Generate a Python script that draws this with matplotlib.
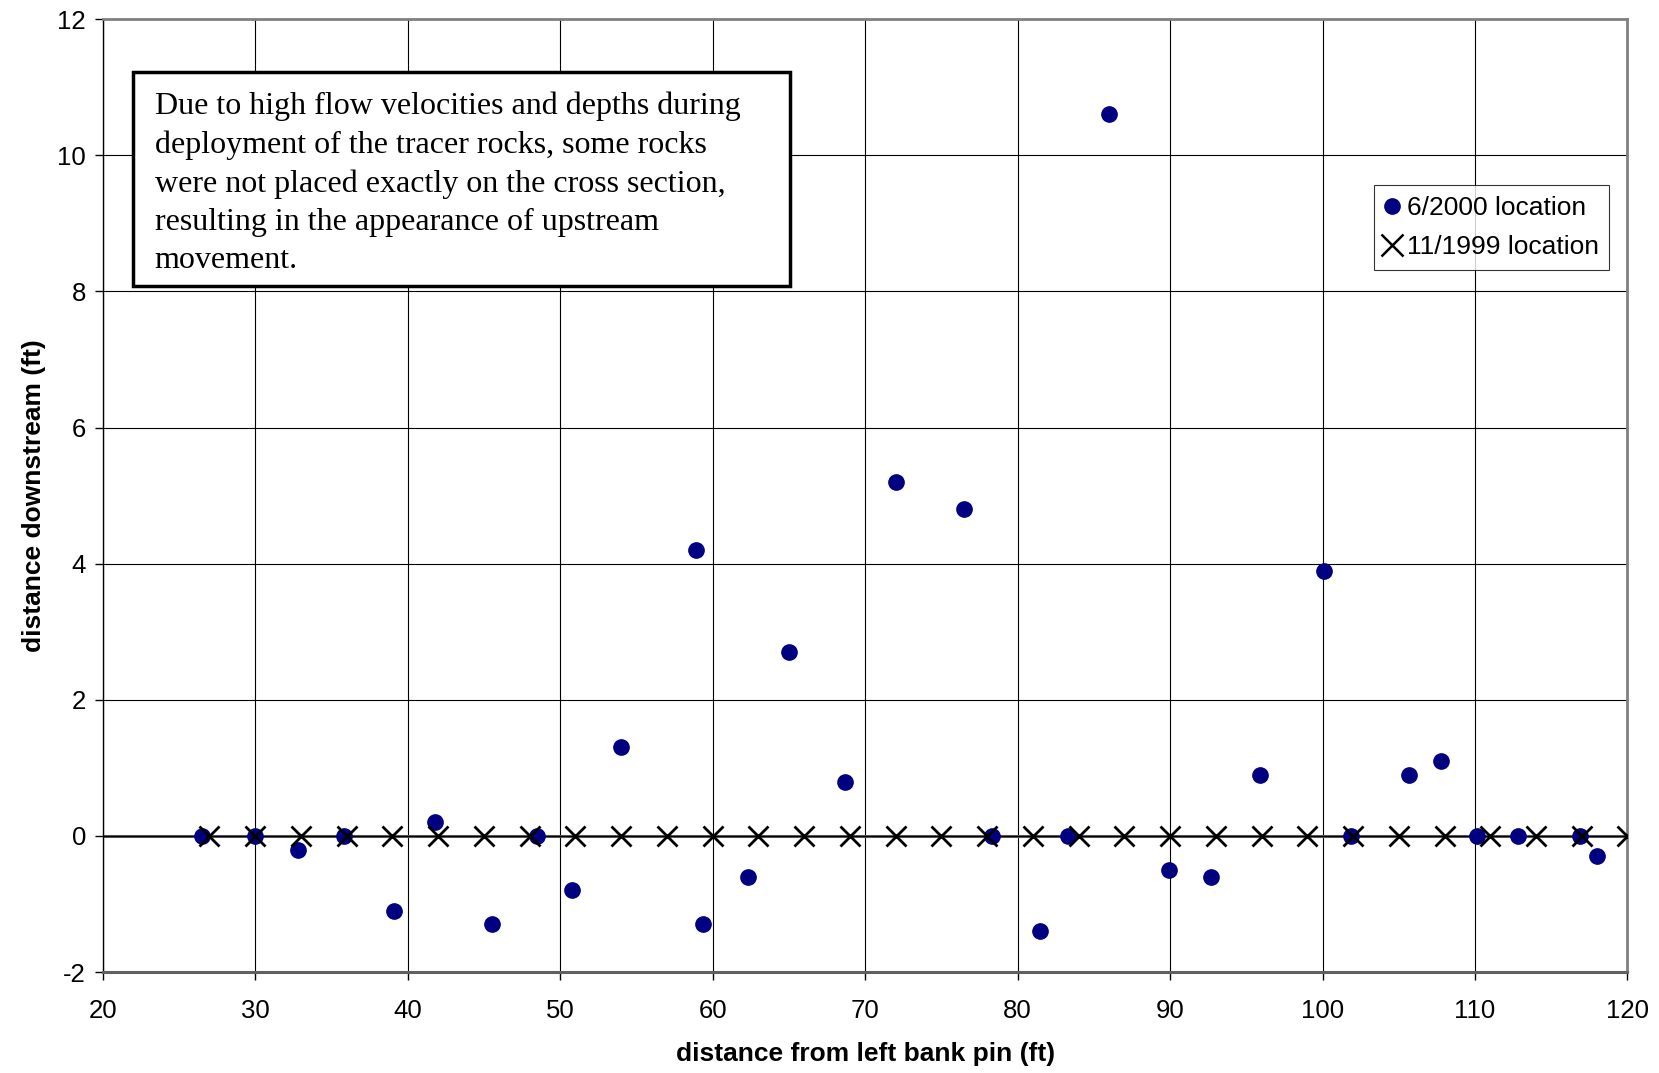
import matplotlib
matplotlib.use("Agg")
import matplotlib.pyplot as plt
from matplotlib.patches import Rectangle
from matplotlib.lines import Line2D

# Data
x_2000 = [26.5, 30.0, 32.8, 35.8, 39.1, 41.8, 45.5, 48.5, 50.8, 54.0, 58.9, 59.4,
          62.3, 65.0, 68.7, 72.0, 76.5, 78.3, 81.5, 83.3, 86.0, 89.9, 92.7, 95.9,
          100.1, 101.9, 105.7, 107.8, 110.1, 112.8, 116.9, 118.0]
y_2000 = [0.0, 0.0, -0.2, 0.0, -1.1, 0.2, -1.3, 0.0, -0.8, 1.3, 4.2, -1.3,
          -0.6, 2.7, 0.8, 5.2, 4.8, 0.0, -1.4, 0.0, 10.6, -0.5, -0.6, 0.9,
          3.9, 0.0, 0.9, 1.1, 0.0, 0.0, 0.0, -0.3]
x_1999 = [27, 30, 33, 36, 39, 42, 45, 48, 51, 54, 57, 60, 63, 66, 69, 72, 75, 78,
          81, 84, 87, 90, 93, 96, 99, 102, 105, 108, 111, 114, 117, 120]
y_1999 = [0] * len(x_1999)
x_ticks = [20, 30, 40, 50, 60, 70, 80, 90, 100, 110, 120]
y_ticks = [-2, 0, 2, 4, 6, 8, 10, 12]

note = ("Due to high flow velocities and depths during\n"
        "deployment of the tracer rocks, some rocks\n"
        "were not placed exactly on the cross section,\n"
        "resulting in the appearance of upstream\n"
        "movement.")

plt.rcParams['font.family'] = ['Liberation Sans', 'DejaVu Sans']
plt.rcParams['axes.unicode_minus'] = False

fig = plt.figure(figsize=(16.59, 10.73), dpi=100)
ax = fig.add_axes([0.0619, 0.094, 0.981 - 0.0619, 0.9822 - 0.094])

ax.set_xlim(20, 120)
ax.set_ylim(-2, 12)
ax.set_xticks(x_ticks)
ax.set_yticks(y_ticks)
ax.grid(True, color='black', linewidth=0.8)
ax.set_axisbelow(True)

ax.axhline(0, color='#606060', linewidth=2.2, zorder=1.5)
ax.axhline(0, color='black', linewidth=0.9, zorder=1.6)

for s in ['top', 'right']:
    ax.spines[s].set_color('#808080')
    ax.spines[s].set_linewidth(2)
ax.spines['bottom'].set_color('#606060')
ax.spines['bottom'].set_linewidth(2.2)
ax.spines['left'].set_color('black')
ax.spines['left'].set_linewidth(1.0)

ax.tick_params(axis='both', direction='out', length=6, width=1, colors='black',
               labelsize=18.5)
ax.tick_params(axis='x', pad=13)
ax.tick_params(axis='y', pad=6)

ax.plot(x_2000, y_2000, linestyle='none', marker='o', markersize=11,
        color='#000080', zorder=3, label='6/2000 location')
ax.plot(x_1999, y_1999, linestyle='none', marker='x', markersize=14.5,
        markeredgewidth=2.0, color='black', zorder=4, label='11/1999 location')

ax.set_xlabel('distance from left bank pin (ft)', fontsize=19, fontweight='bold',
              labelpad=14)
ax.set_ylabel('distance downstream (ft)', fontsize=19, fontweight='bold',
              labelpad=8)

handles = [Line2D([], [], linestyle='none', marker='o', markersize=11, color='#000080'),
           Line2D([], [], linestyle='none', marker='x', markersize=16,
                  markeredgewidth=1.8, color='black')]
leg = ax.legend(handles, ['6/2000 location', '11/1999 location'],
                loc='upper left', bbox_to_anchor=(0.8335, 0.8255),
                fontsize=19, frameon=True, fancybox=False, handlelength=0.6,
                handletextpad=0.25, borderpad=0.4, labelspacing=0.57,
                borderaxespad=0)
leg.get_frame().set_edgecolor('black')
leg.get_frame().set_linewidth(0.8)

ax.add_patch(Rectangle((22.0, 8.08), 43.05, 3.14, facecolor='white',
                       edgecolor='black', linewidth=2.5, zorder=5))
ax.text(23.4, 10.94, note, fontsize=23, family=['Liberation Serif', 'DejaVu Serif'],
        va='top', ha='left', linespacing=1.42, zorder=6)

fig.savefig('out.png', dpi=100)
